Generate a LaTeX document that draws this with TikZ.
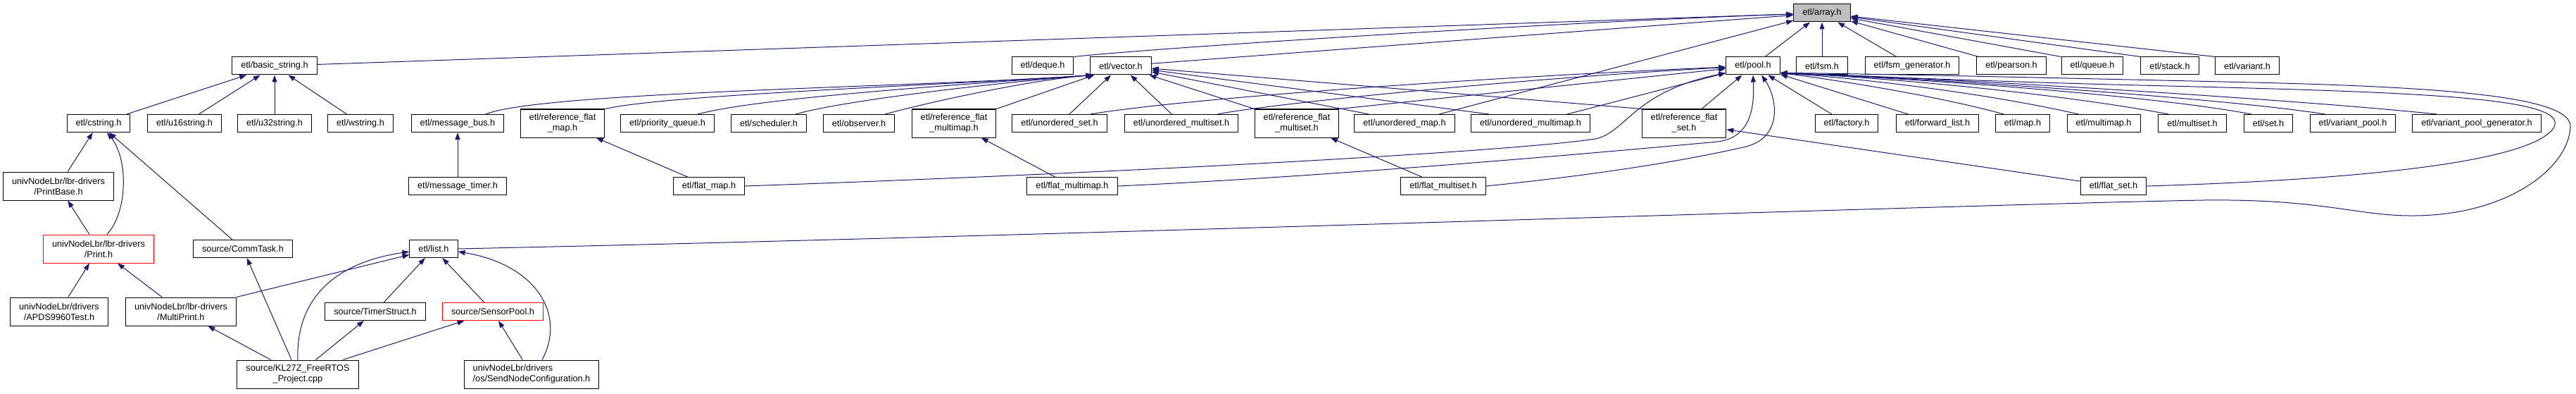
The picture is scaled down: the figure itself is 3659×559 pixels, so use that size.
\documentclass[tikz,border=0pt]{standalone}
\usepackage{fontspec}
\setmainfont{Liberation Sans}
\usetikzlibrary{arrows.meta}
\definecolor{midblue}{HTML}{191970}
\definecolor{hdrgrey}{HTML}{BFBFBF}
\begin{document}
\begin{tikzpicture}[x=1pt,y=-1pt,>={Triangle[length=10pt,width=7pt]},
  font=\fontsize{12.7}{15}\selectfont,
  file/.style={draw,fill=white,line width=1pt,inner xsep=12.5pt,inner ysep=0pt,minimum height=25pt},
  file2/.style={file,align=center,minimum height=40pt},
  trunc/.style={draw=red},
  inc/.style={->,draw=midblue,line width=1pt}]
\useasboundingbox (0,0) rectangle (3659,559);
% top
\node[file,fill=hdrgrey] (arr) at (2588,18.5) {etl/array.h};
% first level
\node[file] (bstr) at (390,93.5) {etl/basic\_string.h};
\node[file] (deque) at (1481,93.5) {etl/deque.h};
\node[file] (vector) at (1592,93.5) {etl/vector.h};
\node[file] (pool) at (2490,93.5) {etl/pool.h};
\node[file] (fsm) at (2588,93.5) {etl/fsm.h};
\node[file] (fsmgen) at (2716,93.5) {etl/fsm\_generator.h};
\node[file] (pearson) at (2857,93.5) {etl/pearson.h};
\node[file] (queue) at (2972,93.5) {etl/queue.h};
\node[file] (stack) at (3082,93.5) {etl/stack.h};
\node[file] (variant) at (3192,93.5) {etl/variant.h};
% second level
\node[file] (cstring) at (140,175) {etl/cstring.h};
\node[file] (u16) at (262,175) {etl/u16string.h};
\node[file] (u32) at (390,175) {etl/u32string.h};
\node[file] (wstr) at (512,175) {etl/wstring.h};
\node[file] (msgbus) at (650,175) {etl/message\_bus.h};
\node[file2] (rfmap) at (799,175) {etl/reference\_flat\\\_map.h};
\node[file] (pqueue) at (948,175) {etl/priority\_queue.h};
\node[file] (sched) at (1092,175) {etl/scheduler.h};
\node[file] (observer) at (1220,175) {etl/observer.h};
\node[file2] (rfmmap) at (1355,175) {etl/reference\_flat\\\_multimap.h};
\node[file] (uset) at (1505,175) {etl/unordered\_set.h};
\node[file] (umset) at (1678,175) {etl/unordered\_multiset.h};
\node[file2] (rfmset) at (1842,175) {etl/reference\_flat\\\_multiset.h};
\node[file] (umap) at (1995,175) {etl/unordered\_map.h};
\node[file] (ummap) at (2174,175) {etl/unordered\_multimap.h};
\node[file2] (rfset) at (2392,175) {etl/reference\_flat\\\_set.h};
\node[file] (factory) at (2623,175) {etl/factory.h};
\node[file] (flist) at (2752,175) {etl/forward\_list.h};
\node[file] (map) at (2873,175) {etl/map.h};
\node[file] (mmap) at (2988,175) {etl/multimap.h};
\node[file] (mset) at (3114,175) {etl/multiset.h};
\node[file] (set) at (3222,175) {etl/set.h};
\node[file] (vpool) at (3342,175) {etl/variant\_pool.h};
\node[file] (vpgen) at (3518,175) {etl/variant\_pool\_generator.h};
% third level
\node[file2] (printbase) at (83,264) {univNodeLbr/lbr-drivers\\/PrintBase.h};
\node[file] (msgtimer) at (650,264) {etl/message\_timer.h};
\node[file] (flatmap) at (1007,264) {etl/flat\_map.h};
\node[file] (flatmmap) at (1523,264) {etl/flat\_multimap.h};
\node[file] (flatmset) at (2050,264) {etl/flat\_multiset.h};
\node[file] (flatset) at (3002,264) {etl/flat\_set.h};
% lower levels
\node[file2,trunc] (print) at (140,353) {univNodeLbr/lbr-drivers\\/Print.h};
\node[file] (commtask) at (345,353) {source/CommTask.h};
\node[file] (list) at (616,353) {etl/list.h};
\node[file2] (apds) at (84,442) {univNodeLbr/drivers\\/APDS9960Test.h};
\node[file2] (multiprint) at (257,442) {univNodeLbr/lbr-drivers\\/MultiPrint.h};
\node[file] (timerstruct) at (533,442) {source/TimerStruct.h};
\node[file,trunc] (sensorpool) at (700,442) {source/SensorPool.h};
\node[file2] (project) at (423,531) {source/KL27Z\_FreeRTOS\\\_Project.cpp};
\node[file2,align=left] (sendnode) at (755,531) {univNodeLbr/drivers\\/os/SendNodeConfiguration.h};

% includes of array.h
\draw[inc] (bstr) -- (arr);
\draw[inc] (deque.north east) .. controls (1640,68) and (2200,32) .. (arr);
\draw[inc] (vector) -- (arr);
\draw[inc] (umap) -- (arr);
\draw[inc] (pool) -- (arr);
\draw[inc] (fsm) -- (arr);
\draw[inc] (fsmgen) -- (arr);
\draw[inc] (pearson) -- (arr);
\draw[inc] (queue.north west) -- (arr);
\draw[inc] (stack.north west) -- (arr);
\draw[inc] (variant.north west) -- (arr);
% includes of vector.h
\draw[inc] ([xshift=40pt]msgbus.north) .. controls (770,130) and (1300,124) .. ([xshift=4pt]vector.south west);
\draw[inc] (rfmap.north east) .. controls (950,134) and (1340,121) .. ([xshift=4pt]vector.south west);
\draw[inc] ([xshift=43pt]pqueue.north) .. controls (1080,138) and (1380,119) .. ([xshift=4pt]vector.south west);
\draw[inc] ([xshift=38pt]sched.north) .. controls (1200,142) and (1420,117) .. ([xshift=4pt]vector.south west);
\draw[inc] ([xshift=37pt]observer.north) .. controls (1320,145) and (1460,114) .. ([xshift=4pt]vector.south west);
\draw[inc] (rfmmap.north east) -- (vector);
\draw[inc] (uset) -- (vector);
\draw[inc] (umset) -- (vector);
\draw[inc] (rfmset.north west) -- (vector);
\draw[inc] ([xshift=21pt]umap.north west) -- (vector);
\draw[inc] ([xshift=26pt]ummap.north west) -- (vector);
\draw[inc] (rfset.north west) -- (vector);
% includes of pool.h
\draw[inc] ([xshift=-24pt]uset.north east) .. controls (1680,140) and (2100,110) .. (pool);
\draw[inc] ([xshift=-30pt]umset.north east) .. controls (1800,148) and (2150,112) .. (pool);
\draw[inc] (rfmset.north east) -- (pool);
\draw[inc] ([xshift=-33pt]ummap.north east) -- (pool);
\draw[inc] (flatmap.east) .. controls (1600,245) and (2150,215) .. (2266,197) .. controls (2310,188) and (2320,130) .. ([yshift=3pt]pool.south west);
\draw[inc] ([xshift=25pt]rfset.north) -- (pool);
\draw[inc] (flatmmap.east) .. controls (1900,250) and (2300,214) .. (2440,201) .. controls (2488,195) and (2492,150) .. (pool.south);
\draw[inc] (flatmset.east) .. controls (2300,245) and (2420,222) .. (2480,208) .. controls (2532,195) and (2525,140) .. ([xshift=12pt]pool.south);
\draw[inc] (factory) -- (pool);
\draw[inc] (flist) -- (pool);
\draw[inc] ([xshift=12pt]map.north west) .. controls (2760,138) and (2620,115) .. ([yshift=3pt]pool.south east);
\draw[inc] ([xshift=17pt]mmap.north west) .. controls (2820,132) and (2650,112) .. ([yshift=3pt]pool.south east);
\draw[inc] ([xshift=15pt]mset.north west) .. controls (2920,132) and (2680,110) .. ([yshift=3pt]pool.south east);
\draw[inc] ([xshift=11pt]set.north west) .. controls (3050,134) and (2700,110) .. ([yshift=3pt]pool.south east);
\draw[inc] ([xshift=22pt]vpool.north west) .. controls (3150,138) and (2720,110) .. ([yshift=3pt]pool.south east);
\draw[inc] ([xshift=35pt]vpgen.north west) .. controls (3250,140) and (2750,110) .. ([yshift=3pt]pool.south east);
\draw[inc] (flatset.east) .. controls (3350,255) and (3600,230) .. (3628,180) .. controls (3650,135) and (3400,130) .. (3000,120) .. controls (2750,113) and (2600,106) .. ([yshift=3pt]pool.south east);
\draw[inc] (list.east) .. controls (1500,335) and (2800,290) .. (3130,284) .. controls (3300,282) and (3350,307) .. (3430,306) .. controls (3560,305) and (3648,240) .. (3651,180) .. controls (3653,140) and (3500,124) .. (3200,117) .. controls (2900,110) and (2620,104) .. ([yshift=3pt]pool.south east);
% includes of list.h
\draw[inc] (multiprint.north east) -- (list);
\draw[inc] (project.north) .. controls (420,420) and (480,372) .. ([yshift=-4pt]list.west);
\draw[inc] (timerstruct) -- (list);
\draw[inc] (sensorpool) -- (list);
\draw[inc] ([xshift=15pt]sendnode.north) .. controls (805,445) and (760,375) .. ([yshift=-4pt]list.east);
% the rest
\draw[inc] (project) -- (multiprint);
\draw[inc] (project) -- (commtask);
\draw[inc] (project) -- (timerstruct);
\draw[inc] (project) -- (sensorpool);
\draw[inc] (sendnode) -- (sensorpool);
\draw[inc] (multiprint) -- (print);
\draw[inc] (apds) -- (print);
\draw[inc] (print) -- (printbase);
\draw[inc] ([xshift=12pt]print.north) .. controls (182,300) and (182,225) .. ([xshift=12pt]cstring.south);
\draw[inc] (printbase) -- (cstring);
\draw[inc] (commtask) -- (cstring);
\draw[inc] (cstring) -- (bstr);
\draw[inc] (u16) -- (bstr);
\draw[inc] (u32) -- (bstr);
\draw[inc] (wstr) -- (bstr);
\draw[inc] (msgtimer) -- (msgbus);
\draw[inc] (flatmap) -- (rfmap);
\draw[inc] (flatmmap) -- (rfmmap);
\draw[inc] (flatmset) -- (rfmset);
\draw[inc] (flatset) -- (rfset);
\end{tikzpicture}
\end{document}
